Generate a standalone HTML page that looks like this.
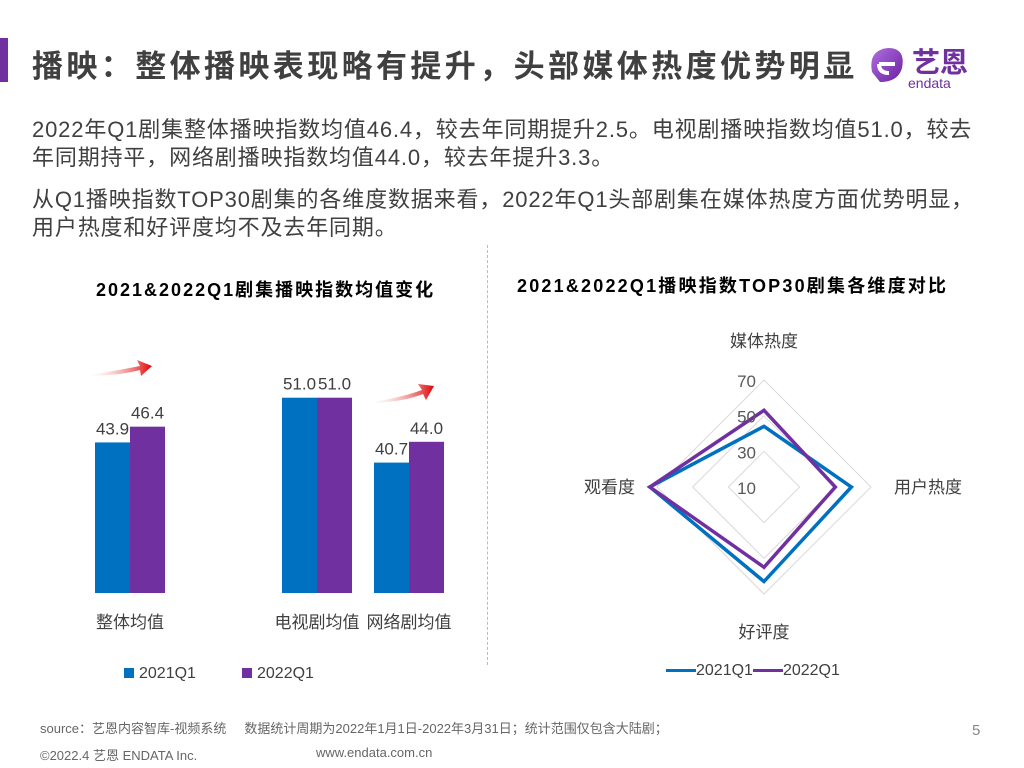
<!DOCTYPE html>
<html><head><meta charset="utf-8"><style>
body{margin:0;width:1024px;height:768px;background:#fff;position:relative;overflow:hidden;font-family:"Liberation Sans","Noto Sans CJK SC",sans-serif;color:#404040}
.a{position:absolute;white-space:nowrap}
</style></head><body>
<div class="a" style="left:0;top:38px;width:8px;height:44px;background:#7030a0"></div>
<div class="a" style="left:32px;top:41px;font-size:31px;font-weight:bold;color:#404040;letter-spacing:3.4px">播映：整体播映表现略有提升，头部媒体热度优势明显</div>
<div class="a" style="left:866px;top:42px;width:120px;height:48px">
<svg width="120" height="48"><defs><linearGradient id="lg" x1="0" y1="0" x2="1" y2="1"><stop offset="0" stop-color="#b070e0"/><stop offset="1" stop-color="#6a1fa0"/></linearGradient></defs>
<path d="M6 30 Q2 8 22 6 Q40 6 36 26 Q32 40 14 40 Z" fill="url(#lg)"/><path d="M13 22 h16 M13 22 q0 9 10 9" stroke="#fff" stroke-width="4" fill="none"/>
<text x="46" y="30" font-size="28" font-weight="bold" fill="#7030a0" font-family="Noto Sans CJK SC,sans-serif">艺恩</text>
<text x="42" y="46" font-size="14" fill="#7030a0" font-family="Liberation Sans,sans-serif">endata</text></svg></div>
<div class="a" style="left:32px;top:116px;font-size:22px;line-height:28px;color:#404040;letter-spacing:0.85px">2022年Q1剧集整体播映指数均值46.4，较去年同期提升2.5。电视剧播映指数均值51.0，较去<br>年同期持平，网络剧播映指数均值44.0，较去年提升3.3。</div>
<div class="a" style="left:32px;top:186px;font-size:22px;line-height:28px;color:#404040;letter-spacing:0.85px">从Q1播映指数TOP30剧集的各维度数据来看，2022年Q1头部剧集在媒体热度方面优势明显，<br>用户热度和好评度均不及去年同期。</div>
<div class="a" style="left:487px;top:245px;height:420px;border-left:1px dashed #bbb"></div>
<div class="a" style="left:96px;top:276px;font-size:18px;font-weight:bold;color:#000;letter-spacing:2px">2021&amp;2022Q1剧集播映指数均值变化</div>
<div class="a" style="left:517px;top:272px;font-size:18px;font-weight:bold;color:#000;letter-spacing:2.2px">2021&amp;2022Q1播映指数TOP30剧集各维度对比</div>
<svg class="a" style="left:0;top:0" width="1024" height="768" id="cv">
<defs><linearGradient id="ar" x1="0" x2="1"><stop offset="0" stop-color="#fff" stop-opacity="0"/><stop offset="1" stop-color="#e00000"/></linearGradient></defs>
<path d="M84 376 Q120 370 140 366 L137 360 L152 366 L141 376 L140 370 Q118 376 84 376 Z" fill="url(#ar)"/>
<path d="M366 403 Q400 398 422 390 L418 384 L434 386 L426 400 L423 394 Q400 403 366 403 Z" fill="url(#ar)"/>
</svg>
<div class="a" style="left:124px;top:665px;font-size:16px"><span style="display:inline-block;width:10px;height:10px;background:#0070c0;margin-right:5px"></span>2021Q1</div>
<div class="a" style="left:242px;top:665px;font-size:16px"><span style="display:inline-block;width:10px;height:10px;background:#7030a0;margin-right:5px"></span>2022Q1</div>
<div class="a" style="left:666px;top:662px;font-size:16px"><span style="display:inline-block;width:30px;height:3px;background:#0070c0;vertical-align:middle"></span>2021Q1<span style="display:inline-block;width:30px;height:3px;background:#7030a0;vertical-align:middle"></span>2022Q1</div>
<div class="a" style="left:40px;top:718px;font-size:13px;color:#666">source：艺恩内容智库-视频系统&nbsp;&nbsp;&nbsp;&nbsp;&nbsp;数据统计周期为2022年1月1日-2022年3月31日；统计范围仅包含大陆剧；</div>
<div class="a" style="left:972px;top:722px;font-size:15px;color:#888">5</div>
<div class="a" style="left:40px;top:745px;font-size:13px;color:#666">©2022.4 艺恩 ENDATA Inc.</div>
<div class="a" style="left:316px;top:745px;font-size:13px;color:#666">www.endata.com.cn</div>
<script>
const categories=['整体均值','电视剧均值','网络剧均值'];
const values2021=[43.9,51.0,40.7];
const values2022=[46.4,51.0,44.0];
const radarAxes=['媒体热度','用户热度','好评度','观看度'];
const radar2021=[44,59,63,74];
const radar2022=[53,50,55,74];
const radarTicks=[10,30,50,70];
const NS='http://www.w3.org/2000/svg';
const svg=document.getElementById('cv');
function mk(t,a){const e=document.createElementNS(NS,t);for(const k in a)e.setAttribute(k,a[k]);svg.appendChild(e);return e;}
const base=593,ymin=20,pxu=6.3;
const y=v=>base-(v-ymin)*pxu;
const groupX=[95,282,374],bw=35;
categories.forEach((c,i)=>{
 [[values2021,'#0070c0',0],[values2022,'#7030a0',1]].forEach(([arr,col,k])=>{
  const x=groupX[i]+k*bw;
  const r=mk('rect',{x:x,y:y(arr[i]),width:bw,height:base-y(arr[i]),fill:col});
  
  
  const t=mk('text',{x:x+bw/2,y:y(arr[i])-8,'text-anchor':'middle','font-size':17,fill:'#404040'});
  t.textContent=arr[i].toFixed(1);
  
  
 });
 const l=mk('text',{x:groupX[i]+bw,y:628,'text-anchor':'middle','font-size':17,fill:'#404040'});
 l.textContent=c;
 
 
});
const cx=764,cy=487,rmin=10,rmax=70,R=107;
const rr=v=>(v-rmin)/(rmax-rmin)*R;
const ang=[-Math.PI/2,0,Math.PI/2,Math.PI];
const pt=(v,i)=>[cx+rr(v)*Math.cos(ang[i]),cy+rr(v)*Math.sin(ang[i])];
radarTicks.slice(1).forEach(tk=>{
 const p=mk('polygon',{points:ang.map((a,i)=>pt(tk,i).join(',')).join(' '),fill:'none',stroke:'#d9d9d9','stroke-width':1});
 
 
});
[[radar2021,'#0070c0'],[radar2022,'#7030a0']].forEach(([arr,col],k)=>{
 const p=mk('polygon',{points:arr.map((v,i)=>pt(v,i).join(',')).join(' '),fill:'none',stroke:col,'stroke-width':3.5,'stroke-linejoin':'miter'});
 
 
});
radarTicks.forEach(tk=>{
 const t=mk('text',{x:cx-8,y:cy-rr(tk)+7,'text-anchor':'end','font-size':17,fill:'#595959'});
 t.textContent=tk;
 
 
});
const lp=[[cx,347,'middle'],[894,493,'start'],[cx,638,'middle'],[635,493,'end']];
radarAxes.forEach((a,i)=>{
 const t=mk('text',{x:lp[i][0],y:lp[i][1],'text-anchor':lp[i][2],'font-size':17,fill:'#404040'});
 t.textContent=a;
 
 
});
</script>
</body></html>
